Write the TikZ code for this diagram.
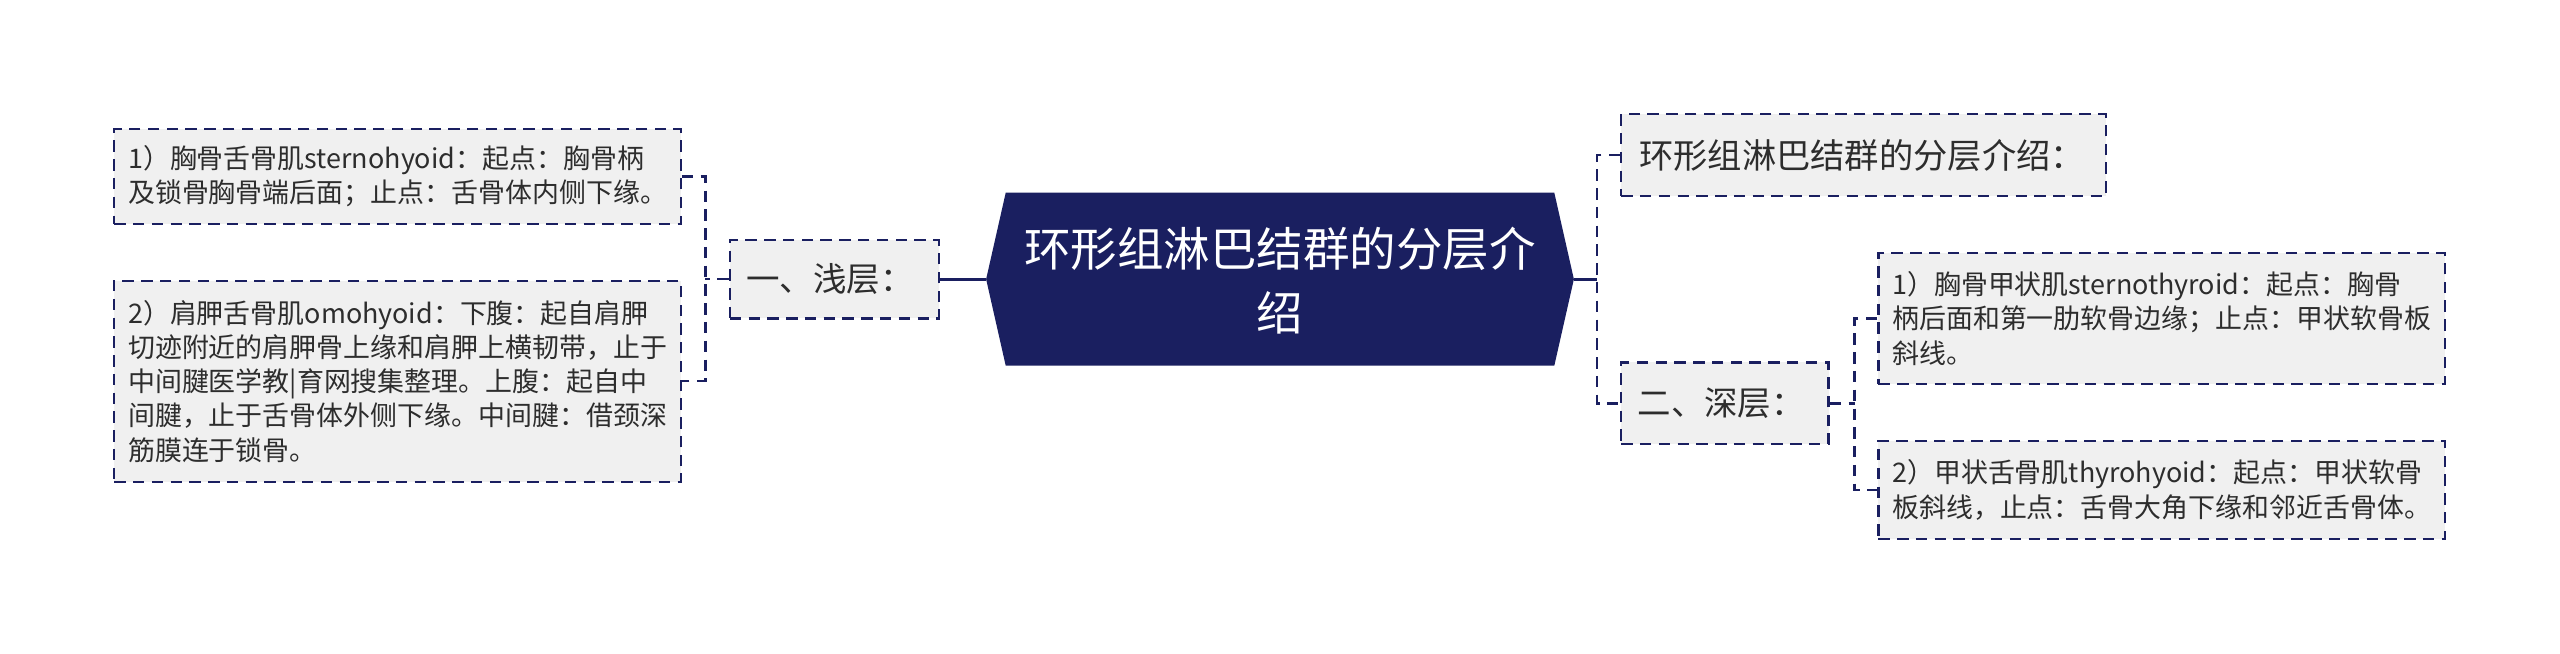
\documentclass[tikz,border=0pt]{standalone}
\usepackage{fontspec}
\setmainfont{Noto Sans CJK SC}
\definecolor{navy}{RGB}{26,31,96}
\definecolor{boxfill}{RGB}{240,240,240}
\definecolor{txt}{RGB}{45,45,45}
\begin{document}
\begin{tikzpicture}[x=1pt,y=-1pt,
  dashbox/.style={draw=navy, fill=boxfill, line width=1.4pt, dash pattern=on 7pt off 4.5pt,
    inner ysep=0pt, align=left, text=txt},
  leaf/.style={dashbox, inner xsep=8.5pt, text width=330pt, font=\fontsize{16.5}{21}\selectfont},
  mid/.style={dashbox, inner xsep=10pt, font=\fontsize{20.5}{24}\selectfont},
  solidcon/.style={draw=navy, line width=2pt},
  dashcon/.style={draw=navy, line width=1.5pt, dash pattern=on 7pt off 4.5pt}]
\useasboundingbox (0,0) rectangle (1568,400);
% central node
\coordinate (cl) at (604,171);
\coordinate (cr) at (964,171);
\fill[navy] (cl) -- (616,118) -- (952,118) -- (cr) -- (952,224) -- (616,224) -- cycle;
\node[text=white, align=center, font=\fontsize{28.5}{39}\selectfont] (c) at (784,172) {环形组淋巴结群的分层介\\绍};
% left side
\node[mid, text width=108pt, minimum height=48pt] (s1) at (511,171) {一、浅层：};
\node[leaf, minimum height=58pt] (l1) at (243.5,108)
  {1）胸骨舌骨肌sternohyoid：起点：胸骨柄\\及锁骨胸骨端后面；止点：舌骨体内侧下缘。};
\node[leaf, minimum height=123pt] (l2) at (243.5,233.5)
  {2）肩胛舌骨肌omohyoid：下腹：起自肩胛\\切迹附近的肩胛骨上缘和肩胛上横韧带，止于\\中间腱医学教|育网搜集整理。上腹：起自中\\间腱，止于舌骨体外侧下缘。中间腱：借颈深\\筋膜连于锁骨。};
\coordinate (jl) at (432,171);
\draw[solidcon] (cl) -- (s1.east);
\draw[dashcon] (s1.west) -- (jl);
\draw[dashcon] (l1.east) -| (jl) |- (l2.east);
% right side
\node[mid, inner xsep=11pt, text width=275pt, minimum height=50pt, font=\fontsize{21}{24}\selectfont] (rt) at (1141.5,95) {环形组淋巴结群的分层介绍：};
\node[mid, text width=107pt, minimum height=50pt] (s2) at (1056.5,247) {二、深层：};
\node[leaf, minimum height=80pt] (r1) at (1324,195)
  {1）胸骨甲状肌sternothyroid：起点：胸骨\\柄后面和第一肋软骨边缘；止点：甲状软骨板\\斜线。};
\node[leaf, minimum height=60pt] (r2) at (1324,300)
  {2）甲状舌骨肌thyrohyoid：起点：甲状软骨\\板斜线，止点：舌骨大角下缘和邻近舌骨体。};
\coordinate (jr) at (978,171);
\coordinate (jd) at (1136,247);
\draw[solidcon] (cr) -- (jr);
\draw[dashcon] (rt.west) -| (jr) |- (s2.west);
\draw[dashcon] (s2.east) -- (jd);
\draw[dashcon] (r1.west) -| (jd) |- (r2.west);
\end{tikzpicture}
\end{document}
